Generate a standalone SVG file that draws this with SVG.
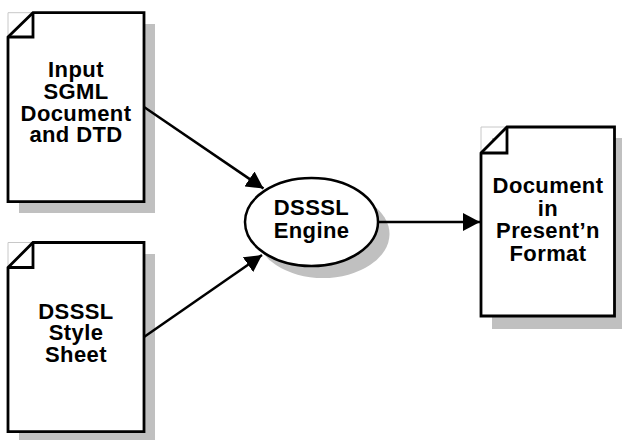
<svg xmlns="http://www.w3.org/2000/svg" width="622" height="440" viewBox="0 0 622 440">
<style>
.shadow{fill:#c0c0c0;stroke:none}
.page{fill:#fff;stroke:#000;stroke-width:2.8;stroke-linejoin:miter}
.fold{fill:none;stroke:#000;stroke-width:2.8}
.ghost{fill:none;stroke:#c8c8c8;stroke-width:1}
.lbl{font-family:"Liberation Sans",Arial,sans-serif;font-weight:bold;font-size:22px;letter-spacing:0.4px;text-anchor:middle;fill:#000}
.conn{fill:none;stroke:#000;stroke-width:2.5}
</style>
<defs>
<marker id="arr" markerWidth="17" markerHeight="18" refX="17" refY="9" orient="auto" markerUnits="userSpaceOnUse">
<path d="M0,0 L17,9 L0,18 Z" fill="#000"/>
</marker>
</defs>
<rect width="622" height="440" fill="#fff"/>
<g id="doc-input">
<rect class="shadow" x="19" y="24" width="136" height="189"/>
<path class="ghost" d="M8,37 L8,12.7 L33,12.7"/>
<path class="page" d="M8,37 L33,12.7 L144,12.7 L144,201.7 L8,201.7 Z"/>
<path class="fold" d="M33,12.7 L33,37 L8,37"/>
<text class="lbl" x="76" y="77">Input</text>
<text class="lbl" x="76" y="99">SGML</text>
<text class="lbl" x="76" y="121">Document</text>
<text class="lbl" x="76" y="142">and DTD</text>
</g>
<g id="doc-style">
<rect class="shadow" x="19" y="254" width="136" height="190"/>
<path class="ghost" d="M8,267.5 L8,242.5 L33,242.5"/>
<path class="page" d="M8,267.5 L33,242.5 L144,242.5 L144,431.7 L8,431.7 Z"/>
<path class="fold" d="M33,242.5 L33,267.5 L8,267.5"/>
<text class="lbl" x="76" y="319">DSSSL</text>
<text class="lbl" x="76" y="340">Style</text>
<text class="lbl" x="76" y="362">Sheet</text>
</g>
<g id="engine">
<ellipse class="shadow" cx="323" cy="234" rx="66.5" ry="44"/>
<ellipse cx="311.5" cy="222" rx="66.5" ry="44" fill="#fff" stroke="#000" stroke-width="2.5"/>
<text class="lbl" x="311.5" y="215">DSSSL</text>
<text class="lbl" x="311.5" y="238">Engine</text>
</g>
<g id="doc-output">
<rect class="shadow" x="492" y="138" width="134" height="191"/>
<path class="ghost" d="M481,153 L481,127 L507,127"/>
<path class="page" d="M481,153 L507,127 L614.5,127 L614.5,316 L481,316 Z"/>
<path class="fold" d="M507,127 L507,153 L481,153"/>
<text class="lbl" x="548" y="193">Document</text>
<text class="lbl" x="548" y="216">in</text>
<text class="lbl" x="548" y="238">Present’n</text>
<text class="lbl" x="548" y="261">Format</text>
</g>
<g id="connectors">
<path class="conn" d="M144,107 L263.5,188.5" marker-end="url(#arr)"/>
<path class="conn" d="M144,337 L262,255" marker-end="url(#arr)"/>
<path class="conn" d="M378,222 L480,222" marker-end="url(#arr)"/>
</g>
</svg>
